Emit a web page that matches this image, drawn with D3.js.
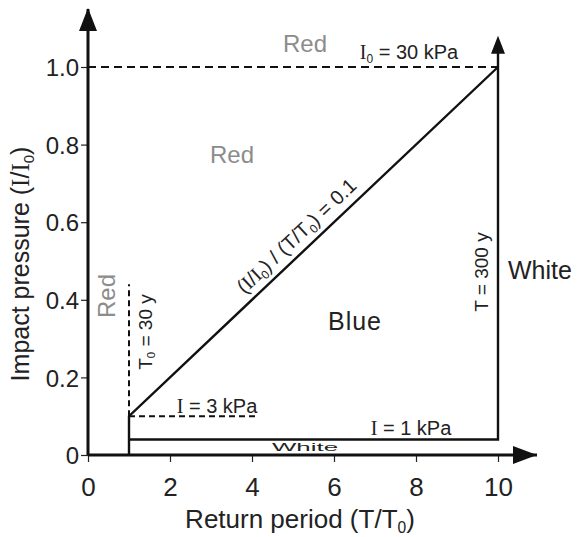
<!DOCTYPE html>
<html>
<head>
<meta charset="utf-8">
<script src="https://cdn.jsdelivr.net/npm/d3@7"></script>
<style>
  body { margin: 0; background: #fff; }
  svg { font-family: "Liberation Sans", Arial, sans-serif; }
</style>
</head>
<body>
<div id="canvas"></div>
<script>
// constants
const width = 579;
const height = 537;

// data
const xTicks = [0, 2, 4, 6, 8, 10];
const yTicks = [0, 0.2, 0.4, 0.6, 0.8, 1.0];
const yTickLabels = ['0', '0.2', '0.4', '0.6', '0.8', '1.0'];
const I0Line = [[0, 1.0], [10, 1.0]];          // I0 = 30 kPa
const T0Line = [[1, 0.1], [1, 0.44]];          // T0 = 30 y
const I3Line = [[1, 0.1], [4.15, 0.1]];        // I = 3 kPa
const ratioLine = [[1, 0], [1, 0.1], [10, 1.0]]; // (I/I0)/(T/T0) = 0.1
const I1Line = [[1, 0.04], [10, 0.04], [10, 1.07]]; // I = 1 kPa and T = 300 y

// scales
const x = d3.scaleLinear().domain([0, 10]).range([88, 498]);
const y = d3.scaleLinear().domain([0, 1]).range([455, 67]);

const svg = d3.select('#canvas').append('svg')
    .attr('width', width).attr('height', height);

const line = d3.line().x(d => x(d[0])).y(d => y(d[1]));

// axes
const xAxis = d3.axisBottom(x).tickValues(xTicks).tickSize(7).tickFormat(d3.format('d'));
const yAxis = d3.axisLeft(y).tickValues(yTicks).tickSize(7).tickFormat((d, i) => yTickLabels[i]);

const gx = svg.append('g').attr('transform', `translate(0,${y(0)})`).call(xAxis);
const gy = svg.append('g').attr('transform', `translate(${x(0)},0)`).call(yAxis);
[gx, gy].forEach(g => {
  g.select('.domain').remove();
  g.selectAll('.tick line').attr('stroke', '#222').attr('stroke-width', 1.2);
  g.selectAll('.tick text').attr('fill', '#222')
      .attr('font-family', '"Liberation Sans", Arial, sans-serif');
});
gx.selectAll('.tick text').attr('font-size', 26).attr('y', 41).attr('dy', 0);
gy.selectAll('.tick text').attr('font-size', 24).attr('x', -9).attr('dy', '0.36em');

// axis lines with arrows
svg.append('line')
    .attr('x1', x(0)).attr('y1', y(0)).attr('x2', 537).attr('y2', y(0))
    .attr('stroke', '#111').attr('stroke-width', 3);
svg.append('path')
    .attr('d', `M537,${y(0)} L513,${y(0) - 9} L513,${y(0) + 9} Z`).attr('fill', '#111');
svg.append('line')
    .attr('x1', x(0)).attr('y1', y(0)).attr('x2', x(0)).attr('y2', 9)
    .attr('stroke', '#111').attr('stroke-width', 3);
svg.append('path')
    .attr('d', `M${x(0)},8 L${x(0) - 9},31 L${x(0) + 9},31 Z`).attr('fill', '#111');

// boundaries
svg.append('path').datum(I0Line).attr('d', line)
    .attr('fill', 'none').attr('stroke', '#111').attr('stroke-width', 2)
    .attr('stroke-dasharray', '8,5');
svg.append('path').datum(T0Line).attr('d', line)
    .attr('fill', 'none').attr('stroke', '#111').attr('stroke-width', 2)
    .attr('stroke-dasharray', '6,4');
svg.append('path').datum(I3Line).attr('d', line)
    .attr('fill', 'none').attr('stroke', '#111').attr('stroke-width', 2)
    .attr('stroke-dasharray', '6,4');
svg.append('path').datum(ratioLine).attr('d', line)
    .attr('fill', 'none').attr('stroke', '#111').attr('stroke-width', 2.4);
svg.append('path').datum(I1Line).attr('d', line)
    .attr('fill', 'none').attr('stroke', '#111').attr('stroke-width', 2.4);
// arrow on top of T = 300 y line
const tip = I1Line[I1Line.length - 1];
svg.append('path')
    .attr('d', `M${x(tip[0])},${y(tip[1]) - 4} L${x(tip[0]) - 7},${y(tip[1]) + 14} L${x(tip[0]) + 7},${y(tip[1]) + 14} Z`)
    .attr('fill', '#111');

// helper to write text with subscript 0
function label(g, parts, size) {
  const t = g.append('text').attr('font-size', size).attr('fill', '#222');
  parts.forEach(p => {
    const s = t.append('tspan').text(p.t);
    if (p.serif) s.attr('font-family', '"Liberation Serif", "Times New Roman", serif');
    if (p.sub) s.attr('font-size', size * 0.6).attr('baseline-shift', -size * 0.18);
  });
  return t;
}

// region labels
const gray = '#8c8c8c';
svg.append('text').attr('x', 305).attr('y', 52).attr('text-anchor', 'middle')
    .attr('font-size', 24).attr('fill', gray).text('Red');
svg.append('text').attr('x', 232).attr('y', 163).attr('text-anchor', 'middle')
    .attr('font-size', 24).attr('fill', gray).text('Red');
svg.append('text').attr('transform', 'translate(115,296) rotate(-90)').attr('text-anchor', 'middle')
    .attr('font-size', 24).attr('fill', gray).text('Red');
svg.append('text').attr('x', 355).attr('y', 330).attr('text-anchor', 'middle')
    .attr('font-size', 25).attr('letter-spacing', 1).attr('fill', '#222').text('Blue');
svg.append('text').attr('x', 508).attr('y', 279)
    .attr('font-size', 25).attr('fill', '#222').text('White');
svg.append('text').attr('x', 272).attr('y', 451)
    .attr('font-size', 11).attr('textLength', 66).attr('lengthAdjust', 'spacingAndGlyphs')
    .attr('fill', '#222').text('White');

// line labels
label(svg, [{t: 'I', serif: true}, {t: '0', sub: true}, {t: ' = 30 kPa'}], 20)
    .attr('x', 409).attr('y', 59).attr('text-anchor', 'middle');
label(svg, [{t: 'I', serif: true}, {t: ' = 3 kPa'}], 20)
    .attr('x', 217).attr('y', 413).attr('text-anchor', 'middle');
label(svg, [{t: 'I', serif: true}, {t: ' = 1 kPa'}], 20)
    .attr('x', 411).attr('y', 435).attr('text-anchor', 'middle');
label(svg, [{t: 'T'}, {t: '0', sub: true}, {t: ' = 30 y'}], 19)
    .attr('transform', 'translate(152,332) rotate(-90)').attr('text-anchor', 'middle');
label(svg, [{t: 'T = 300 y'}], 19)
    .attr('transform', 'translate(488,272) rotate(-90)').attr('text-anchor', 'middle');

// label along the diagonal
const p1 = ratioLine[1], p2 = ratioLine[2];
const ang = Math.atan2(y(p2[1]) - y(p1[1]), x(p2[0]) - x(p1[0])) * 180 / Math.PI;
const at = 5.35;
const mx = x(at), my = y(p1[1] + (at - p1[0]) * (p2[1] - p1[1]) / (p2[0] - p1[0]));
label(svg, [{t: '('}, {t: 'I', serif: true}, {t: '/'}, {t: 'I', serif: true}, {t: '0', sub: true},
            {t: ') / (T/T'}, {t: '0', sub: true}, {t: ') = 0.1'}], 20)
    .attr('transform', `translate(${mx},${my}) rotate(${ang}) translate(0,-9)`)
    .attr('text-anchor', 'middle');

// axis titles
label(svg, [{t: 'Return period (T/T'}, {t: '0', sub: true}, {t: ')'}], 26)
    .attr('x', 300).attr('y', 528).attr('text-anchor', 'middle');
label(svg, [{t: 'Impact pressure ('}, {t: 'I', serif: true}, {t: '/'}, {t: 'I', serif: true},
            {t: '0', sub: true}, {t: ')'}], 25)
    .attr('transform', 'translate(29,264) rotate(-90)').attr('text-anchor', 'middle');
</script>
</body>
</html>
